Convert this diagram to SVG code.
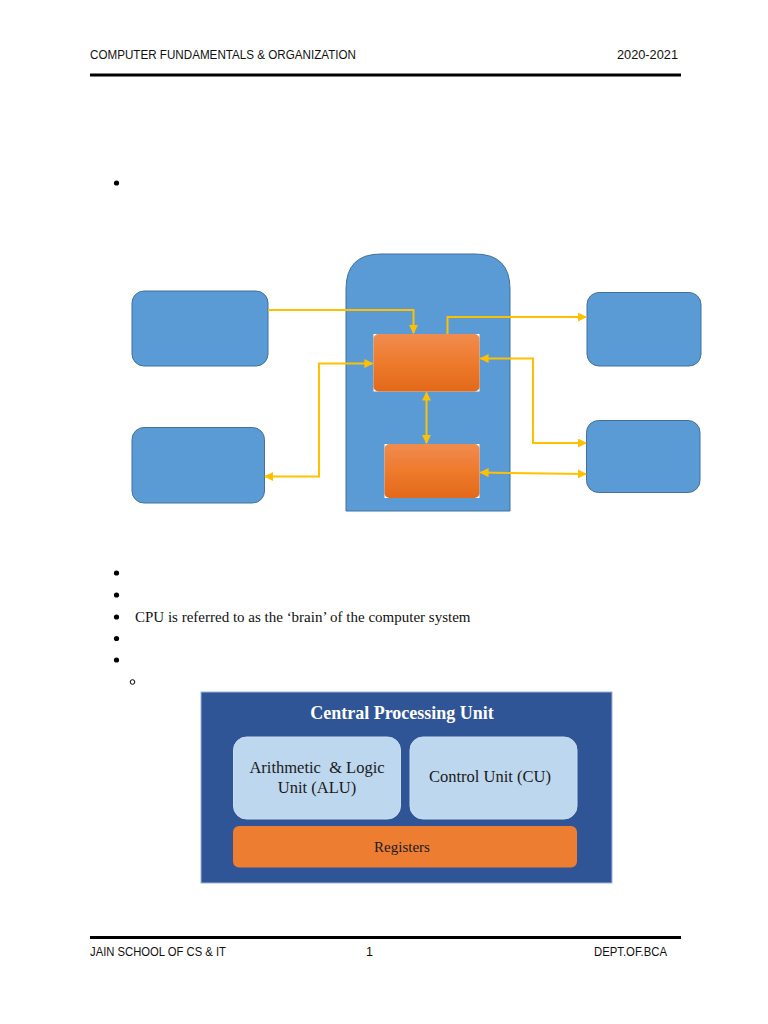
<svg xmlns="http://www.w3.org/2000/svg" width="768" height="1024" viewBox="0 0 768 1024">
<defs>
<style>
.hdr{font-family:"Liberation Sans",Arial,sans-serif;font-size:12.5px;fill:#111}
.body{font-family:"Liberation Serif","Times New Roman",serif;font-size:15px;fill:#111}
.box{fill:#5B9BD5;stroke:#41719C;stroke-width:1}
.conn{fill:none;stroke:#FFC000;stroke-width:2}
.cpuT{font-family:"Liberation Serif","Times New Roman",serif;font-size:18px;font-weight:bold;fill:#fff}
.cpuL{font-family:"Liberation Serif","Times New Roman",serif;font-size:16.5px;fill:#1a1a1a;white-space:pre}
.unit{fill:#BDD7EE;stroke:#C9DDF0;stroke-width:1}
</style>
<linearGradient id="og" x1="0" y1="0" x2="0" y2="1">
<stop offset="0" stop-color="#F08C50"/>
<stop offset="0.5" stop-color="#EE7A2C"/>
<stop offset="1" stop-color="#E3691A"/>
</linearGradient>
<marker id="ah" viewBox="0 0 10 10" refX="9" refY="5" markerWidth="4.5" markerHeight="4.5" orient="auto-start-reverse" markerUnits="strokeWidth">
<path d="M0,0 L10,5 L0,10 z" fill="#FFC000"/>
</marker>
</defs>
<rect width="768" height="1024" fill="#fff"/>

<g id="header">
<text class="hdr" x="90" y="59" textLength="266" lengthAdjust="spacingAndGlyphs">COMPUTER FUNDAMENTALS &amp; ORGANIZATION</text>
<text class="hdr" x="617" y="59" textLength="61" lengthAdjust="spacingAndGlyphs">2020-2021</text>
<rect x="90" y="73.5" width="591" height="3" fill="#000"/>
</g>

<g id="bullet-top"><circle cx="116.5" cy="183" r="2.6" fill="#000"/></g>

<g id="container"><path d="M346,511 L346,289 Q346,254 381,254 L475,254 Q510,254 510,289 L510,511 Z" fill="#5B9BD5" stroke="#41719C" stroke-width="1"/></g>
<g id="box-left-top"><rect class="box" x="132" y="291" width="136" height="75" rx="12"/></g>
<g id="box-left-bottom"><rect class="box" x="132" y="427.5" width="132.5" height="75.5" rx="12"/></g>
<g id="box-right-top"><rect class="box" x="587" y="292.5" width="114" height="73.5" rx="12"/></g>
<g id="box-right-bottom"><rect class="box" x="586.5" y="420.5" width="113.5" height="72" rx="12"/></g>
<g id="orange-top">
<rect x="373.5" y="334" width="106" height="57.5" fill="#fff"/>
<rect x="373.5" y="334" width="106" height="57.5" rx="5" fill="url(#og)"/>
</g>
<g id="orange-bottom">
<rect x="384.5" y="444" width="95" height="54" fill="#fff"/>
<rect x="384.5" y="444" width="95" height="54" rx="5" fill="url(#og)"/>
</g>

<g id="connectors">
<path class="conn" d="M268,310 L413.5,310 L413.5,333" marker-end="url(#ah)"/>
<path class="conn" d="M447.5,334 L447.5,317 L586,317" marker-end="url(#ah)"/>
<path class="conn" d="M265,476.5 L319,476.5 L319,363.5 L372.5,363.5" marker-start="url(#ah)" marker-end="url(#ah)"/>
<path class="conn" d="M480.5,358.5 L533,358.5 L533,443 L586,443" marker-start="url(#ah)" marker-end="url(#ah)"/>
<path class="conn" d="M426.5,392.5 L426.5,443" marker-start="url(#ah)" marker-end="url(#ah)"/>
<path class="conn" d="M480.5,472.5 L586,474" marker-start="url(#ah)" marker-end="url(#ah)"/>
</g>

<g id="bullets">
<circle cx="116.5" cy="573" r="2.6" fill="#000"/>
<circle cx="116.5" cy="595" r="2.6" fill="#000"/>
<circle cx="116.5" cy="617" r="2.6" fill="#000"/>
<circle cx="116.5" cy="638.5" r="2.6" fill="#000"/>
<circle cx="116.5" cy="660" r="2.6" fill="#000"/>
<circle cx="132.5" cy="682" r="2.3" fill="none" stroke="#000" stroke-width="1"/>
<text class="body" x="135" y="621.5">CPU is referred to as the ‘brain’ of the computer system</text>
</g>

<g id="cpu">
<rect x="201" y="692" width="411" height="191" fill="#2F5597" stroke="#9DB3DB" stroke-width="1"/>
<text class="cpuT" x="402" y="718.5" text-anchor="middle">Central Processing Unit</text>
<g id="alu">
<rect class="unit" x="233.5" y="737" width="167" height="82" rx="13"/>
<text class="cpuL" x="317" y="772.5" text-anchor="middle">Arithmetic  &amp; Logic</text>
<text class="cpuL" x="317" y="793" text-anchor="middle">Unit (ALU)</text>
</g>
<g id="cu">
<rect class="unit" x="410" y="737" width="167" height="82" rx="13"/>
<text class="cpuL" x="490" y="781.5" text-anchor="middle">Control Unit (CU)</text>
</g>
<g id="registers">
<rect x="233" y="826" width="344" height="41.5" rx="6" fill="#ED7D31"/>
<text class="cpuL" x="402" y="851.5" text-anchor="middle" style="font-size:15px">Registers</text>
</g>
</g>

<g id="footer">
<rect x="90" y="936" width="591" height="3" fill="#000"/>
<text class="hdr" x="90" y="955.5" textLength="136" lengthAdjust="spacingAndGlyphs">JAIN SCHOOL OF CS &amp; IT</text>
<text class="hdr" x="366" y="955.5">1</text>
<text class="hdr" x="594" y="955.5" textLength="73" lengthAdjust="spacingAndGlyphs">DEPT.OF.BCA</text>
</g>
</svg>
